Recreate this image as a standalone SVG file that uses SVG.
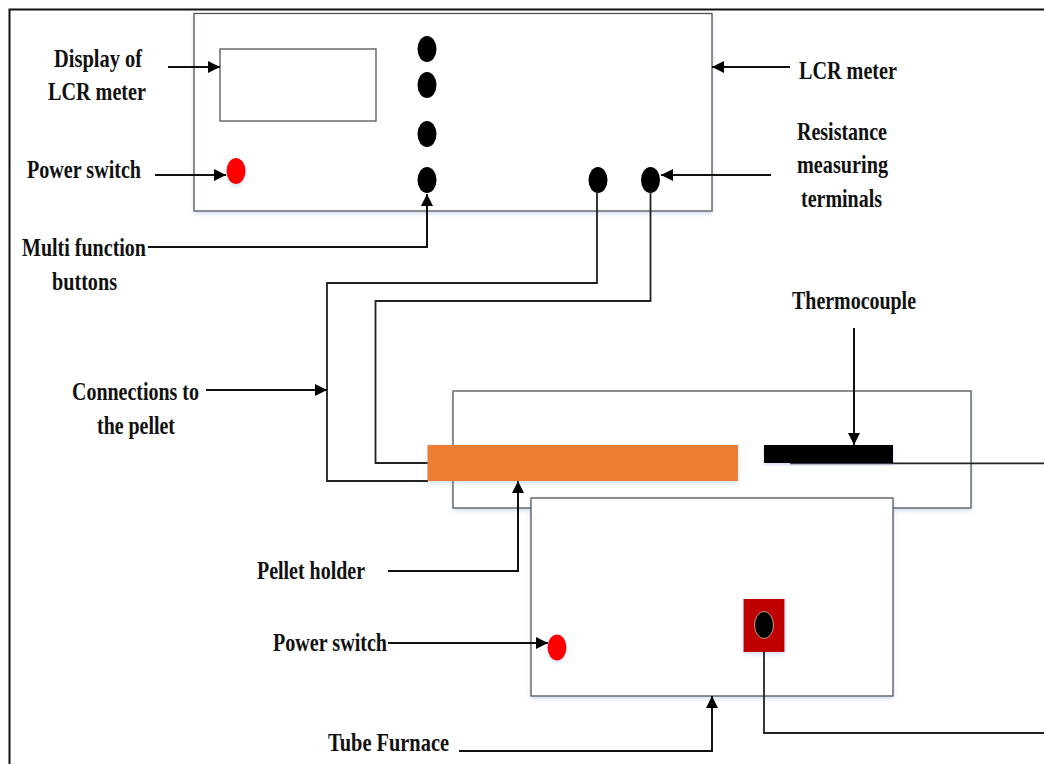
<svg xmlns="http://www.w3.org/2000/svg" width="1044" height="764" viewBox="0 0 1044 764">
<style>
.bg{fill:#fff}
.box{fill:#fff;stroke:#555;stroke-width:1.3}
.wire{fill:none;stroke:#222;stroke-width:1.8}
.lead{fill:none;stroke:#111;stroke-width:2}
.btn{fill:#000}
.red{fill:#f00}
text{font-family:"Liberation Serif","Times New Roman",serif;font-weight:bold;font-size:25px;fill:#111}
</style>
<defs>
<filter id="sh" x="-10%" y="-10%" width="120%" height="125%"><feDropShadow dx="0" dy="2" stdDeviation="2" flood-color="#5b8bd0" flood-opacity="0.3"/></filter>
<marker id="ah" markerUnits="userSpaceOnUse" markerWidth="14" markerHeight="14" refX="12" refY="7" orient="auto"><path d="M0 1L12 7L0 13Z" fill="#000"/></marker>
</defs>
<rect class="bg" width="1044" height="764"/>
<path d="M1044 9.5H9.5V764" fill="none" stroke="#111" stroke-width="2"/>

<g id="lcr-meter">
<rect class="box" x="194" y="13.5" width="518" height="197.5" filter="url(#sh)"/>
<rect id="display" class="box" x="220" y="49" width="156" height="72"/>
<ellipse class="red" cx="236" cy="171" rx="9.5" ry="13" filter="url(#sh)"/>
<ellipse class="btn" cx="427" cy="49" rx="9.5" ry="13"/>
<ellipse class="btn" cx="427" cy="85" rx="9.5" ry="13"/>
<ellipse class="btn" cx="427" cy="134" rx="9.5" ry="13"/>
<ellipse class="btn" cx="427" cy="180" rx="9.5" ry="13"/>
<ellipse class="btn" cx="598" cy="180" rx="9.5" ry="13"/>
<ellipse class="btn" cx="650.5" cy="180" rx="9.5" ry="13"/>
</g>

<g id="tube">
<rect class="box" x="453" y="391" width="518" height="117" filter="url(#sh)"/>
</g>
<g id="furnace">
<rect class="box" x="531" y="498" width="362" height="198" filter="url(#sh)"/>
<ellipse class="red" cx="557" cy="647.5" rx="9.5" ry="13" filter="url(#sh)"/>
<rect x="743.5" y="599" width="41" height="53" fill="#c00000" filter="url(#sh)"/>
<ellipse cx="764" cy="625" rx="9.5" ry="13.5" fill="#000" stroke="#c9a08c" stroke-width="1"/>
</g>

<g id="connectors">
<path class="wire" d="M597 191V283H327V481H428"/>
<path class="wire" d="M650.5 191V301H375.5V463H428"/>
<path class="wire" d="M790 463.3H1044"/>
<path class="wire" d="M764 652V733H1044"/>
<path class="lead" d="M168 67H220" marker-end="url(#ah)"/>
<path class="lead" d="M155 175H226" marker-end="url(#ah)"/>
<path class="lead" d="M148 247H427V194" marker-end="url(#ah)"/>
<path class="lead" d="M790 67H712" marker-end="url(#ah)"/>
<path class="lead" d="M771 175H661" marker-end="url(#ah)"/>
<path class="lead" d="M206 390H327" marker-end="url(#ah)"/>
<path class="lead" d="M854 328V445" marker-end="url(#ah)"/>
<path class="lead" d="M388 571H518V481" marker-end="url(#ah)"/>
<path class="lead" d="M388 643H548" marker-end="url(#ah)"/>
<path class="lead" d="M459 751H712V696" marker-end="url(#ah)"/>
</g>

<g id="pellet-holder"><rect x="427.5" y="445" width="310.5" height="36" fill="#ed7d31" filter="url(#sh)"/></g>
<g id="thermocouple"><rect x="764" y="445" width="129" height="18" fill="#000" filter="url(#sh)"/></g>

<g id="labels">
<text x="54" y="67" textLength="88" lengthAdjust="spacingAndGlyphs">Display of</text>
<text x="48" y="100" textLength="98" lengthAdjust="spacingAndGlyphs">LCR meter</text>
<text x="27" y="178" textLength="114" lengthAdjust="spacingAndGlyphs">Power switch</text>
<text x="22" y="256" textLength="124" lengthAdjust="spacingAndGlyphs">Multi function</text>
<text x="52" y="290" textLength="65" lengthAdjust="spacingAndGlyphs">buttons</text>
<text x="799" y="79" textLength="98" lengthAdjust="spacingAndGlyphs">LCR meter</text>
<text x="797" y="140" textLength="90" lengthAdjust="spacingAndGlyphs">Resistance</text>
<text x="797" y="173" textLength="91" lengthAdjust="spacingAndGlyphs">measuring</text>
<text x="801" y="207" textLength="81" lengthAdjust="spacingAndGlyphs">terminals</text>
<text x="792" y="309" textLength="124" lengthAdjust="spacingAndGlyphs">Thermocouple</text>
<text x="72" y="400" textLength="127" lengthAdjust="spacingAndGlyphs">Connections to</text>
<text x="97" y="434" textLength="78" lengthAdjust="spacingAndGlyphs">the pellet</text>
<text x="257" y="579" textLength="108" lengthAdjust="spacingAndGlyphs">Pellet holder</text>
<text x="273" y="651" textLength="114" lengthAdjust="spacingAndGlyphs">Power switch</text>
<text x="328" y="751" textLength="121" lengthAdjust="spacingAndGlyphs">Tube Furnace</text>
</g>
</svg>
